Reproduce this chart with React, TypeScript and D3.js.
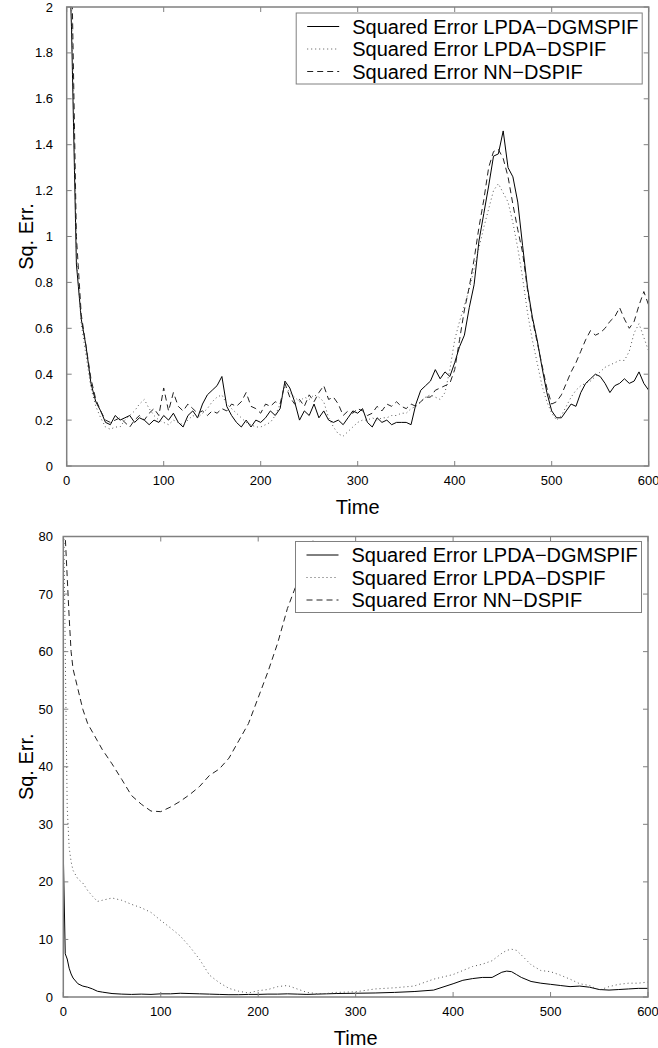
import * as d3 from "d3";

const legendNames = [
  "Squared Error LPDA\u2212DGMSPIF",
  "Squared Error LPDA\u2212DSPIF",
  "Squared Error NN\u2212DSPIF",
];

// top panel: sampled every 5 time steps
const topTime = d3.range(0, 601, 5);
const topDgmspif = [
  2.6, 1.9, 0.88, 0.64, 0.52, 0.36, 0.28, 0.24, 0.19, 0.18,
  0.22, 0.2, 0.21, 0.22, 0.19, 0.21, 0.2, 0.18, 0.2, 0.19,
  0.22, 0.2, 0.23, 0.19, 0.17, 0.22, 0.24, 0.21, 0.27, 0.31,
  0.33, 0.35, 0.39, 0.26, 0.22, 0.19, 0.17, 0.2, 0.17, 0.2,
  0.19, 0.21, 0.24, 0.22, 0.25, 0.37, 0.34, 0.28, 0.2, 0.24,
  0.22, 0.27, 0.21, 0.24, 0.2, 0.19, 0.2, 0.18, 0.21, 0.24,
  0.23, 0.25, 0.19, 0.17, 0.21, 0.19, 0.2, 0.18, 0.19, 0.19,
  0.19, 0.18, 0.27, 0.33, 0.35, 0.37, 0.42, 0.38, 0.41, 0.39,
  0.45, 0.52, 0.57, 0.69, 0.79, 0.98, 1.1, 1.22, 1.35, 1.36,
  1.46, 1.3, 1.26, 1.15, 0.96, 0.78, 0.65, 0.55, 0.43, 0.32,
  0.24, 0.21, 0.21, 0.24, 0.27, 0.26, 0.32, 0.36, 0.38, 0.4,
  0.39, 0.36, 0.32, 0.35, 0.36, 0.38, 0.36, 0.37, 0.41, 0.36,
  0.33,
];
const topDspif = [
  2.7, 2.0, 0.92, 0.62, 0.48, 0.34, 0.26, 0.21, 0.17, 0.16,
  0.17, 0.17, 0.2, 0.22, 0.24, 0.27, 0.29, 0.25, 0.22, 0.2,
  0.19, 0.18, 0.2, 0.19, 0.18, 0.2, 0.22, 0.21, 0.23, 0.25,
  0.28, 0.3, 0.31, 0.27, 0.25, 0.23, 0.21, 0.19, 0.18, 0.17,
  0.17, 0.18, 0.19, 0.22, 0.27, 0.35, 0.32, 0.3, 0.28, 0.3,
  0.29, 0.31, 0.3, 0.28, 0.21, 0.17, 0.14, 0.13, 0.15, 0.17,
  0.19, 0.2, 0.2, 0.21, 0.2, 0.21, 0.21, 0.22, 0.22, 0.23,
  0.23, 0.25, 0.26, 0.28, 0.3, 0.31, 0.3, 0.29, 0.32, 0.42,
  0.55, 0.63, 0.7, 0.77, 0.86, 0.95, 1.04, 1.12, 1.2, 1.23,
  1.19, 1.15, 1.06, 0.95, 0.82, 0.67, 0.55, 0.45, 0.35, 0.28,
  0.23, 0.2, 0.22, 0.26, 0.3, 0.33, 0.35, 0.36, 0.37, 0.39,
  0.41, 0.43, 0.44, 0.45, 0.46, 0.46, 0.5, 0.58, 0.62, 0.56,
  0.5,
];
const topNn = [
  2.8, 2.2, 1.0, 0.66, 0.52, 0.38, 0.29, 0.24, 0.2, 0.19,
  0.2, 0.21, 0.19, 0.17, 0.2, 0.22, 0.2, 0.23, 0.25, 0.22,
  0.34, 0.24, 0.32, 0.26, 0.24, 0.27, 0.25, 0.23, 0.24, 0.22,
  0.24, 0.23, 0.25, 0.24, 0.27, 0.26, 0.28, 0.32, 0.26, 0.25,
  0.23, 0.27, 0.26, 0.28, 0.27, 0.36, 0.3, 0.27, 0.29, 0.26,
  0.31, 0.28, 0.32, 0.35, 0.29, 0.3, 0.27, 0.22, 0.24, 0.23,
  0.25, 0.24, 0.22, 0.23, 0.26, 0.24, 0.27, 0.26, 0.28, 0.26,
  0.25, 0.27, 0.26, 0.28, 0.3, 0.3, 0.33, 0.34, 0.35, 0.36,
  0.42, 0.55, 0.68, 0.78, 0.9, 1.04, 1.16, 1.3, 1.37, 1.38,
  1.34, 1.26, 1.14, 1.03, 0.93, 0.77, 0.64, 0.54, 0.44, 0.34,
  0.27, 0.28, 0.31, 0.36, 0.41, 0.45, 0.5, 0.55, 0.59, 0.57,
  0.58, 0.6, 0.63, 0.65, 0.69, 0.64, 0.6, 0.63, 0.7, 0.76,
  0.7,
];

// bottom panel
const bottomTime = [
  0, 2, 4, 6, 8, 10, 15, 20, 25, 30, 35, 40, 50, 60, 70, 80, 90, 100, 110,
  120, 130, 140, 150, 160, 170, 180, 190, 200, 210, 220, 230, 240, 250, 260,
  270, 280, 300, 320, 340, 360, 380, 400, 410, 420, 430, 440, 450, 455, 460,
  465, 470, 480, 490, 500, 510, 520, 530, 540, 550, 560, 570, 580, 590, 600,
];
const bottomDgmspif = [
  25, 7.5, 6.6, 5.0, 4.0, 3.3, 2.3, 1.9, 1.7, 1.4, 1.0, 0.85,
  0.6, 0.5, 0.45, 0.5, 0.45, 0.55, 0.55, 0.65, 0.6, 0.55,
  0.5, 0.45, 0.4, 0.4, 0.45, 0.45, 0.5, 0.5, 0.55, 0.5,
  0.45, 0.5, 0.55, 0.6, 0.65, 0.7, 0.8, 0.95, 1.2, 2.3,
  2.9, 3.2, 3.4, 3.4, 4.3, 4.5, 4.4, 3.9, 3.4,
  2.7, 2.4, 2.2, 2.0, 1.8, 1.9, 1.7, 1.3, 1.2, 1.3, 1.4, 1.5, 1.5,
];
const bottomDspif = [
  90, 60, 33, 26, 23.5, 22, 20.5, 19.8, 18.5, 17.5, 16.6, 16.8,
  17.2, 16.8, 16.1, 15.5, 14.7, 13.3, 12, 10.6, 8.7, 6.5,
  3.8, 2.5, 1.5, 1.0, 0.7, 1.1, 1.3, 1.8, 2.0, 1.4,
  0.8, 0.6, 0.6, 0.8, 0.9, 1.4, 1.6, 1.9, 3.1, 3.9,
  4.6, 5.3, 5.7, 6.3, 7.6, 8.1, 8.3, 8.1, 7.3,
  5.6, 4.6, 4.4, 3.8, 3.1, 2.3, 2.0, 1.2, 1.8, 2.2, 2.4, 2.4, 2.6,
];
const nnTime = [
  0, 2, 4, 6, 8, 10, 15, 20, 25, 30, 35, 40, 50, 60, 70, 80, 90, 100, 110,
  120, 130, 140, 150, 160, 170, 180, 190, 200, 210, 220, 230, 240, 250, 260, 270,
];
const bottomNn = [
  95, 80, 73, 66, 60, 57, 53.5, 50, 47.5, 46, 44.5, 43,
  40.5, 37.8, 35, 33.5, 32.3, 32.2, 33, 34, 35.2, 36.6,
  38.5, 39.6, 41.5, 44.5, 47.5, 52, 56.5, 61.5, 67.5, 72,
  76.5, 81, 86,
];

const topYTicks = [0, 0.2, 0.4, 0.6, 0.8, 1, 1.2, 1.4, 1.6, 1.8, 2];
const bottomYTicks = [0, 10, 20, 30, 40, 50, 60, 70, 80];
const xTicks = [0, 100, 200, 300, 400, 500, 600];

const styles = [
  { stroke: "#000", dash: undefined, width: 1 },
  { stroke: "#555", dash: "1,3", width: 1 },
  { stroke: "#222", dash: "6,4", width: 1 },
];

const FONT = "'Liberation Sans', Arial, sans-serif";
const AXIS = "#808080";

function Panel({ id, left, right, top, bottom, yMax, yTicks, series, legendTop }) {
  const x = d3.scaleLinear().domain([0, 600]).range([left, right]);
  const y = d3.scaleLinear().domain([0, yMax]).range([bottom, top]);
  const line = d3
    .line<[number, number]>()
    .x((d) => x(d[0]))
    .y((d) => y(d[1]));

  const legW = 346;
  const legH = 71;
  const legX = right - 6.5 - legW;
  const legY = legendTop;

  return (
    <g>
      <defs>
        <clipPath id={id}>
          <rect x={left} y={top} width={right - left} height={bottom - top} />
        </clipPath>
      </defs>

      <g clipPath={`url(#${id})`}>
        {series.map((s, i) => (
          <path
            key={i}
            d={line(s.time.map((t, j) => [t, s.values[j]]))}
            fill="none"
            stroke={styles[i].stroke}
            strokeWidth={styles[i].width}
            strokeDasharray={styles[i].dash}
          />
        ))}
      </g>

      {/* frame */}
      <rect
        x={left}
        y={top}
        width={right - left}
        height={bottom - top}
        fill="none"
        stroke={AXIS}
        strokeWidth={1.5}
      />

      {/* x ticks */}
      {xTicks.map((t) => (
        <g key={"x" + t}>
          <line x1={x(t)} x2={x(t)} y1={bottom} y2={bottom - 5} stroke={AXIS} />
          <line x1={x(t)} x2={x(t)} y1={top} y2={top + 5} stroke={AXIS} />
          <text
            x={x(t)}
            y={bottom + 19}
            textAnchor="middle"
            fontSize={13}
            fontFamily={FONT}
          >
            {t}
          </text>
        </g>
      ))}

      {/* y ticks */}
      {yTicks.map((v) => (
        <g key={"y" + v}>
          <line x1={left} x2={left + 5} y1={y(v)} y2={y(v)} stroke={AXIS} />
          <line x1={right} x2={right - 5} y1={y(v)} y2={y(v)} stroke={AXIS} />
          <text
            x={53}
            y={y(v) + 4.5}
            textAnchor="end"
            fontSize={13}
            fontFamily={FONT}
          >
            {v}
          </text>
        </g>
      ))}

      <text
        x={x(300)}
        y={bottom + 48}
        textAnchor="middle"
        fontSize={20}
        fontFamily={FONT}
      >
        Time
      </text>
      <text
        transform={`translate(33, ${(top + bottom) / 2}) rotate(-90)`}
        textAnchor="middle"
        fontSize={20}
        fontFamily={FONT}
      >
        Sq. Err.
      </text>

      {/* legend */}
      <rect x={legX} y={legY} width={legW} height={legH} fill="#fff" stroke={AXIS} />
      {legendNames.map((name, i) => {
        const cy = legY + 13.5 + i * 22.5;
        return (
          <g key={name}>
            <line
              x1={legX + 11}
              x2={legX + 43}
              y1={cy}
              y2={cy}
              stroke={styles[i].stroke}
              strokeDasharray={styles[i].dash}
            />
            <text x={legX + 56} y={cy + 7} fontSize={20} fontFamily={FONT}>
              {name}
            </text>
          </g>
        );
      })}
    </g>
  );
}

export default function App() {
  const topSeries = [
    { time: topTime, values: topDgmspif },
    { time: topTime, values: topDspif },
    { time: topTime, values: topNn },
  ];
  const bottomSeries = [
    { time: bottomTime, values: bottomDgmspif },
    { time: bottomTime, values: bottomDspif },
    { time: nnTime, values: bottomNn },
  ];
  return (
    <svg
      width={658}
      height={1048}
      style={{ position: "absolute", left: 0, top: 0, background: "#fff" }}
    >
      <Panel
        id="clipTop"
        left={66.7}
        right={648.7}
        top={7}
        bottom={466}
        yMax={2}
        yTicks={topYTicks}
        series={topSeries}
        legendTop={13}
      />
      <Panel
        id="clipBottom"
        left={63.3}
        right={648}
        top={536.5}
        bottom={997}
        yMax={80}
        yTicks={bottomYTicks}
        series={bottomSeries}
        legendTop={541.5}
      />
    </svg>
  );
}
